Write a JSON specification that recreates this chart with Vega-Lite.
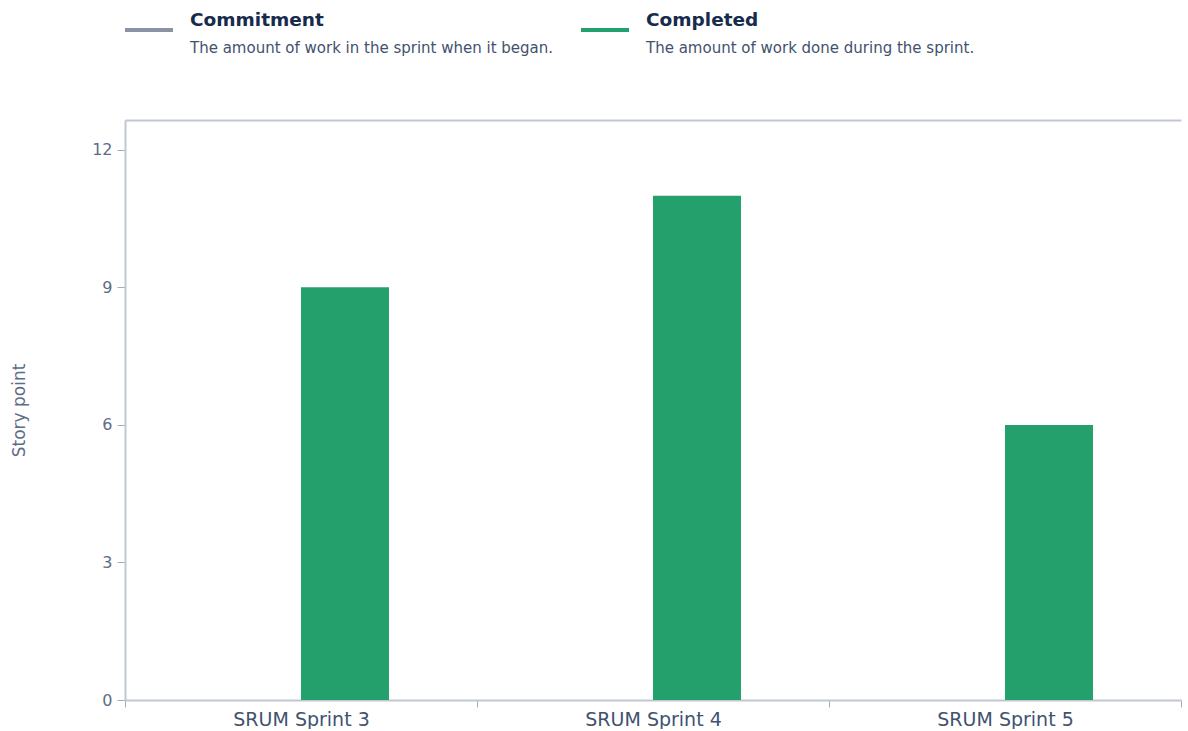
{
  "$schema": "https://vega.github.io/schema/vega-lite/v6.json",
  "padding": {"left": 10, "top": 0, "right": 0, "bottom": 0},
  "background": "white",
  "config": {"font": "DejaVu Sans", "view": {"stroke": null}, "concat": {"spacing": 60}},
  "datasets": {
    "legend": [
      {"name": "Commitment", "desc": "The amount of work in the sprint when it began."},
      {"name": "Completed", "desc": "The amount of work done during the sprint."}
    ],
    "sprints": [
      {"sprint": "SRUM Sprint 3", "series": "Commitment", "points": 0},
      {"sprint": "SRUM Sprint 3", "series": "Completed", "points": 9},
      {"sprint": "SRUM Sprint 4", "series": "Commitment", "points": 0},
      {"sprint": "SRUM Sprint 4", "series": "Completed", "points": 11},
      {"sprint": "SRUM Sprint 5", "series": "Commitment", "points": 0},
      {"sprint": "SRUM Sprint 5", "series": "Completed", "points": 6}
    ]
  },
  "vconcat": [
    {
      "width": 1056,
      "height": 60,
      "data": {"name": "legend"},
      "layer": [
        {
          "mark": {"type": "tick", "orient": "horizontal", "size": 48, "thickness": 4, "opacity": 1},
          "encoding": {
            "x": {"field": "name", "type": "nominal", "scale": {"type": "point", "range": [24, 480], "padding": 0}, "axis": null},
            "color": {"field": "name", "type": "nominal", "scale": {"domain": ["Commitment", "Completed"], "range": ["#8993a4", "#23a06c"]}, "legend": null}
          }
        },
        {
          "mark": {"type": "text", "align": "left", "baseline": "middle", "dx": 41, "dy": -10, "fontSize": 18.5, "fontWeight": "bold", "color": "#172b4d"},
          "encoding": {
            "x": {"field": "name", "type": "nominal", "scale": {"type": "point", "range": [24, 480], "padding": 0}, "axis": null},
            "text": {"field": "name"}
          }
        },
        {
          "mark": {"type": "text", "align": "left", "baseline": "middle", "dx": 41, "dy": 18, "fontSize": 15, "color": "#42526e"},
          "encoding": {
            "x": {"field": "name", "type": "nominal", "scale": {"type": "point", "range": [24, 480], "padding": 0}, "axis": null},
            "text": {"field": "desc"}
          }
        }
      ]
    },
    {
      "width": 1056,
      "height": 580,
      "data": {"name": "sprints"},
      "layer": [
        {
          "mark": {"type": "bar"},
          "encoding": {
            "x": {
              "field": "sprint", "type": "nominal", "sort": null,
              "scale": {"paddingInner": 0, "paddingOuter": 0},
              "axis": {"orient": "bottom", "title": null, "labelAngle": 0, "tickBand": "extent", "labelFontSize": 19, "labelColor": "#42526e", "domainColor": "#c1c7d0", "domainWidth": 2, "tickColor": "#a5adba", "tickSize": 7, "labelPadding": 3}
            },
            "xOffset": {"field": "series", "type": "nominal", "scale": {"paddingInner": 0, "paddingOuter": 1.12}},
            "y": {
              "field": "points", "type": "quantitative",
              "scale": {"domain": [0, 12.65], "nice": false},
              "axis": {"values": [0, 3, 6, 9, 12], "grid": false, "title": "Story point", "labelFontSize": 16, "labelColor": "#5e6c84", "tickColor": "#a5adba", "tickSize": 8, "labelPadding": 5, "domainColor": "#c1c7d0", "domainWidth": 2, "titleFontSize": 17, "titleFontWeight": "normal", "titleColor": "#5e6c84", "titlePadding": 63}
            },
            "color": {"field": "series", "type": "nominal", "scale": {"domain": ["Commitment", "Completed"], "range": ["#8993a4", "#23a06c"]}, "legend": null}
          }
        },
        {
          "mark": {"type": "bar", "opacity": 0},
          "encoding": {
            "x": {"field": "sprint", "type": "nominal", "sort": null, "axis": {"orient": "top", "labels": false, "ticks": false, "title": null, "domainColor": "#c1c7d0", "domainWidth": 2}}
          }
        }
      ],
      "resolve": {"axis": {"x": "independent"}}
    }
  ]
}
